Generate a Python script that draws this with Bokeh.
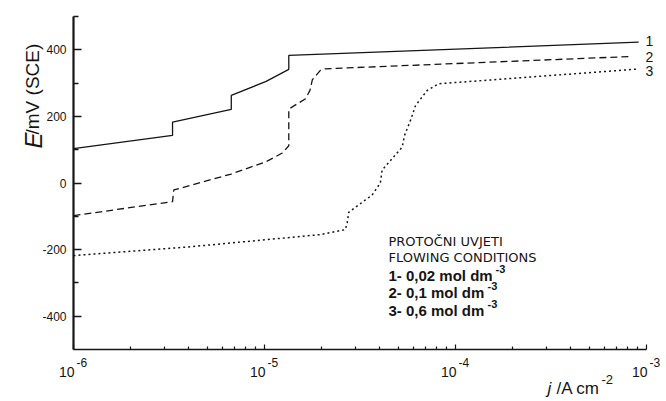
import math
from bokeh.plotting import figure
from bokeh.models import Label, FixedTicker
from bokeh.embed import file_html
from bokeh.resources import INLINE

# ---------------- data ----------------
# curve 1: 0,02 mol dm-3 (solid)
j_1 = [1.0e-6, 3.3e-6, 3.3e-6, 6.7e-6, 6.7e-6, 1.02e-5, 1.34e-5, 1.34e-5, 9.1e-4]
E_1 = [103, 143, 183, 221, 263, 305, 341, 383, 423]

# curve 2: 0,1 mol dm-3 (dashed)
j_2 = [1.0e-6, 3.3e-6, 3.35e-6, 6.7e-6, 1.02e-5, 1.24e-5, 1.34e-5, 1.34e-5,
       1.64e-5, 1.73e-5, 1.78e-5, 1.96e-5, 2.08e-5, 8.4e-4]
E_2 = [-98, -56, -21, 27, 64, 90, 112, 222, 253, 278, 310, 338, 343, 380]

# curve 3: 0,6 mol dm-3 (dotted)
j_3 = [1.0e-6, 4.0e-6, 1.96e-5, 2.65e-5, 2.71e-5, 2.76e-5, 3.66e-5, 4.04e-5,
       4.13e-5, 5.26e-5, 5.41e-5, 5.81e-5, 6.18e-5, 7.11e-5, 8.18e-5, 8.93e-4]
E_3 = [-218, -192, -155, -140, -120, -88, -36, 0, 39, 108, 143, 188, 233, 278, 298, 342]

curve_names = ["1", "2", "3"]
x_decades = [1e-6, 1e-5, 1e-4, 1e-3]
x_exponents = ["-6", "-5", "-4", "-3"]
x_minor = [k * 10.0 ** e for e in (-6, -5, -4) for k in range(2, 10)]
y_major = [-400, -200, 0, 200, 400]
y_minor = [-300, -100, 100, 300, 500]
header_lines = ["PROTOČNI UVJETI", "FLOWING CONDITIONS"]
conc_lines = ["1- 0,02 mol dm", "2- 0,1 mol dm", "3- 0,6 mol dm"]
conc_sup = ["-3", "-3", "-3"]

# ---------------- geometry (page pixels; canvas sits at page 0,0) ----------------
W, H = 664, 399
X0 = 73.0                  # page x of j = 1e-6
DEC = 191.0                # px per decade
Y0 = 182.5                 # page y of E = 0
PPM = 0.333                # px per mV


def xd(page_x):
    """page pixel x -> data x (log axis)"""
    return 10.0 ** (-6 + (page_x - X0) / DEC)


def yd(page_y):
    """page pixel y -> data y"""
    return (Y0 - page_y) / PPM


def xpx(x):
    return X0 + (math.log10(x) + 6) * DEC


# the frame fills the whole canvas; axes are pinned inside it
p = figure(width=W, height=H, x_axis_type="log",
           x_range=(xd(0), xd(W)), y_range=(yd(H), yd(0)),
           output_backend="svg", toolbar_location=None)
p.min_border = 0
p.outline_line_color = None
p.grid.visible = False
p.background_fill_color = "white"
p.border_fill_color = "white"

INK = "#151515"

# x axis (tick labels drawn separately as 10 + superscript)
xa = p.xaxis[0]
xa.fixed_location = -500
xa.bounds = (1e-6, 1e-3)
xa.ticker = FixedTicker(ticks=x_decades, minor_ticks=x_minor)
xa.major_label_overrides = {t: "" for t in x_decades}
xa.axis_line_color = INK
xa.axis_line_width = 1.6
xa.major_tick_in = 5
xa.major_tick_out = 0
xa.minor_tick_in = 3
xa.minor_tick_out = 0
xa.major_tick_line_color = INK
xa.minor_tick_line_color = INK
xa.major_tick_line_width = 1.2
xa.minor_tick_line_width = 1.2

# y axis
ya = p.yaxis[0]
ya.fixed_location = 1e-6
ya.bounds = (-500, 500)
ya.ticker = FixedTicker(ticks=y_major, minor_ticks=y_minor)
ya.major_label_overrides = {v: str(v) for v in y_major}
ya.axis_line_color = INK
ya.axis_line_width = 2.2
ya.major_tick_in = 8
ya.major_tick_out = 0
ya.minor_tick_in = 5
ya.minor_tick_out = 0
ya.major_tick_line_color = INK
ya.minor_tick_line_color = INK
ya.major_tick_line_width = 1.6
ya.minor_tick_line_width = 1.4
ya.major_label_text_font = "Liberation Sans"
ya.major_label_text_font_size = "12px"
ya.major_label_text_color = INK
ya.major_label_standoff = 7

# curves
p.line(j_1, E_1, line_color=INK, line_width=1.3)
p.line(j_2, E_2, line_color=INK, line_width=1.3, line_dash="7 4")
p.line(j_3, E_3, line_color=INK, line_width=1.5, line_dash="2 3")


def lab(px, py, text, size, font="Liberation Sans", style="normal",
        align="left", baseline="alphabetic", angle=0.0):
    p.add_layout(Label(x=xd(px), y=yd(py), text=text, text_font=font,
                       text_font_size=f"{size}px", text_font_style=style,
                       text_align=align, text_baseline=baseline, angle=angle,
                       text_color=INK))


# curve labels at right end
for name, cy in zip(curve_names, [40, 56, 70]):
    lab(645, cy, name, 14, baseline="middle")

# x tick labels 10^n
for t, ex in zip(x_decades, x_exponents):
    tx = xpx(t)
    lab(tx + 1, 371, "10", 14, align="right")
    lab(tx + 3, 362, ex, 12)

# x axis title
lab(547, 388, "j", 17, style="italic")
lab(556, 388, "/A cm", 17)
lab(601, 379, "-2", 13)

# y axis title (rotated)
lab(33, 148, "E", 24, style="italic", angle=math.pi / 2)
lab(32, 134, "/mV (SCE)", 19, font="Liberation Sans Narrow, Liberation Sans",
    angle=math.pi / 2)

# legend block
for txt, by in zip(header_lines, [241, 257]):
    lab(388, by, txt, 13, font="DejaVu Sans")
sup_x = [495, 487, 487]
for txt, sup, by, sx in zip(conc_lines, conc_sup, [275, 292, 310], sup_x):
    lab(388, by, txt, 15, style="bold")
    lab(sx, by - 7, sup, 11, style="bold")

open("out.html", "w").write(file_html(p, INLINE))
